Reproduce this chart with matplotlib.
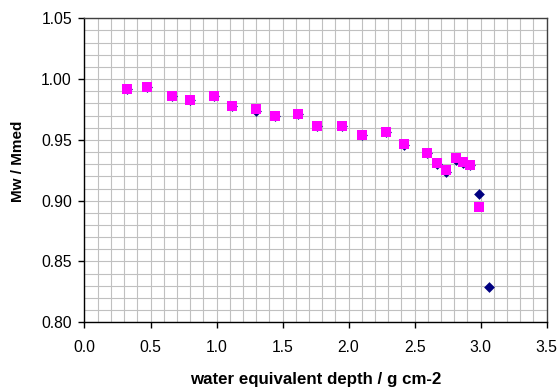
import numpy as np
import matplotlib.pyplot as plt
from matplotlib.ticker import MultipleLocator

# Datos
depth = [0.32, 0.47, 0.66, 0.80, 0.98, 1.12, 1.30, 1.44, 1.62, 1.76,
         1.95, 2.10, 2.28, 2.42, 2.59, 2.67, 2.74, 2.81, 2.87, 2.92]
mw_sq = [0.9916, 0.9933, 0.9864, 0.9828, 0.9858, 0.9779, 0.9757, 0.9697, 0.9710, 0.9617,
         0.9617, 0.9543, 0.9562, 0.9466, 0.9395, 0.9313, 0.9253, 0.9349, 0.9321, 0.9294]
depth_sq_last = [2.99]
mw_sq_last = [0.8951]

depth_dia = depth + [2.99, 3.06]
mw_dia = [0.9916, 0.9933, 0.9864, 0.9828, 0.9858, 0.9779, 0.9740, 0.9697, 0.9710, 0.9617,
          0.9617, 0.9543, 0.9562, 0.9455, 0.9395, 0.9300, 0.9238, 0.9335, 0.9310, 0.9290,
          0.9055, 0.8288]

plt.rcParams['font.family'] = ['Liberation Sans', 'DejaVu Sans']

fig = plt.figure(figsize=(5.58, 3.89), dpi=100)
ax = fig.add_axes([0.1514, 0.1715, 0.9797 - 0.1514, 0.953 - 0.1715])

# Serie azul (diamantes) debajo, magenta (cuadrados) encima
ax.scatter(depth_dia, mw_dia, marker='D', s=30, color='#000080', linewidths=0, zorder=3)
ax.scatter(depth + depth_sq_last, mw_sq + mw_sq_last, marker='s', s=62,
           color='#FF00FF', linewidths=0, zorder=4)

ax.set_xlim(0, 3.5)
ax.set_ylim(0.80, 1.05)
ax.xaxis.set_major_locator(MultipleLocator(0.5))
ax.xaxis.set_minor_locator(MultipleLocator(0.1))
ax.yaxis.set_major_locator(MultipleLocator(0.05))
ax.yaxis.set_minor_locator(MultipleLocator(0.01))
ax.xaxis.set_major_formatter(plt.FormatStrFormatter('%.1f'))
ax.yaxis.set_major_formatter(plt.FormatStrFormatter('%.2f'))

ax.grid(which='both', color='#c0c0c0', linewidth=0.8)
ax.set_axisbelow(True)
ax.tick_params(which='minor', length=0)
ax.tick_params(which='major', direction='out', length=4, width=1, labelsize=11.3)
ax.tick_params(axis='x', pad=9)
ax.tick_params(axis='y', pad=5)

for s in ['left', 'bottom']:
    ax.spines[s].set_color('black')
    ax.spines[s].set_linewidth(1)
for s in ['top', 'right']:
    ax.spines[s].set_color('#404040')
    ax.spines[s].set_linewidth(1)

ax.set_xlabel('water equivalent depth / g cm-2', fontsize=12.2, fontweight='bold')
ax.set_ylabel('Mw / Mmed', fontsize=11, fontweight='bold')
ax.xaxis.set_label_coords(0.5, -0.187)
ax.xaxis.label.set_va('center')
ax.yaxis.set_label_coords(-0.144, 0.531)
ax.yaxis.label.set_va('center')

fig.savefig('out.png', dpi=100)
